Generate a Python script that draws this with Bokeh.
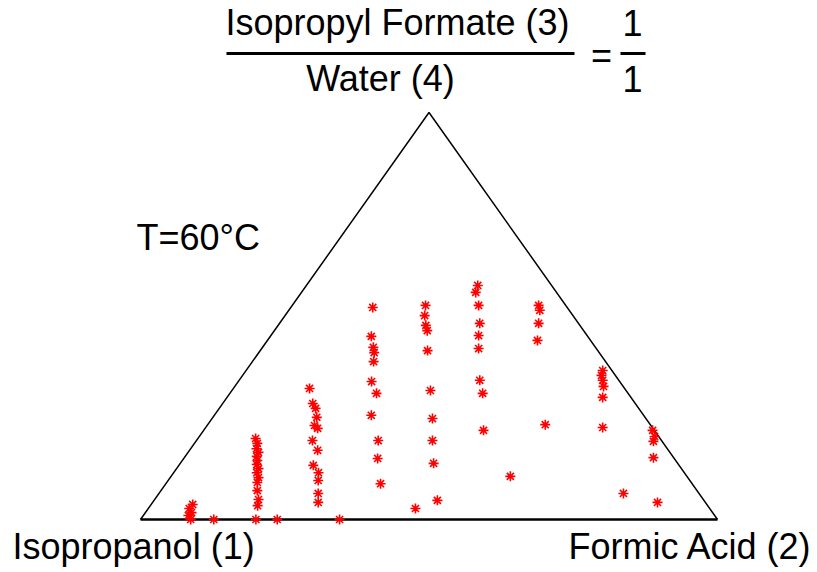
from bokeh.plotting import figure
from bokeh.models import Range1d, Label
from bokeh.embed import file_html
from bokeh.resources import INLINE

# Ternary data: mole fraction of Formic Acid (2) and of Isopropyl Formate + Water (3+4)
formic_acid = [
    0.072, 0.071, 0.080, 0.078, 0.087,
    0.127, 0.237, 0.345,
    0.100, 0.109, 0.114, 0.122, 0.124, 0.130, 0.134, 0.142, 0.144, 0.153, 0.157, 0.167, 0.180, 0.186, 0.200,
    0.132, 0.156, 0.167, 0.180, 0.186, 0.195, 0.201, 0.222, 0.233, 0.251, 0.260, 0.276, 0.287,
    0.142, 0.175, 0.192, 0.200, 0.210, 0.231, 0.254, 0.272, 0.315, 0.336, 0.372,
    0.231, 0.242, 0.256, 0.265, 0.290, 0.344, 0.382, 0.409, 0.439, 0.491, 0.463,
    0.297, 0.302, 0.323, 0.347, 0.360, 0.376, 0.417, 0.438, 0.485,
    0.588,
    0.427, 0.435, 0.449, 0.468,
    0.585,
    0.618, 0.622, 0.630, 0.639, 0.651, 0.688,
    0.778, 0.789, 0.793, 0.813, 0.805, 0.875,
]
ester_water = [
    0.037, 0.027, 0.017, 0.010, 0.000,
    0.000, 0.000, 0.000,
    0.199, 0.187, 0.174, 0.165, 0.155, 0.145, 0.135, 0.125, 0.115, 0.103, 0.091, 0.071, 0.049, 0.034, 0.000,
    0.322, 0.285, 0.273, 0.251, 0.231, 0.224, 0.194, 0.170, 0.133, 0.115, 0.096, 0.064, 0.042,
    0.521, 0.450, 0.423, 0.410, 0.388, 0.339, 0.310, 0.256, 0.194, 0.150, 0.088,
    0.526, 0.501, 0.477, 0.464, 0.415, 0.317, 0.248, 0.194, 0.138, 0.047, 0.027,
    0.575, 0.558, 0.526, 0.482, 0.452, 0.420, 0.342, 0.310, 0.219,
    0.106,
    0.526, 0.514, 0.482, 0.440,
    0.233,
    0.366, 0.354, 0.342, 0.327, 0.300, 0.226,
    0.219, 0.204, 0.192, 0.152, 0.064, 0.042,
]

vertex_labels = ["Isopropanol (1)", "Formic Acid (2)"]
title_num = "Isopropyl Formate (3)"
title_den = "Water (4)"
ratio_num = "1"
ratio_den = "1"
temp_label = "T=60°C"

W, H = 817, 572
# pixel layout of triangle
LX, RX, BY, TY = 140, 717, 519, 112
sx = RX - LX
sy = BY - TY


def dx(px):
    return (px - LX) / sx


def dy(py):
    return (BY - py) / sy


p = figure(width=W, height=H, output_backend="svg", toolbar_location=None,
           x_range=Range1d(dx(0), dx(W)), y_range=Range1d(dy(H), dy(0)),
           min_border=0, background_fill_color="white")
p.axis.visible = False
p.grid.visible = False
p.outline_line_color = None

# triangle
p.line([0, 0.5, 1], [0, 1, 0], line_color="black", line_width=1.5)
p.line([0, 1], [0, 0], line_color="black", line_width=2.5)

# points
X = [f + e / 2 for f, e in zip(formic_acid, ester_water)]
Y = list(ester_water)
p.scatter(X, Y, marker="asterisk", size=10, line_color="red", line_width=1.6)

FONT = "Liberation Sans"
FS = "36px"
SHIFT = 15


def label(txt, px, py, align="center"):
    p.add_layout(Label(x=dx(px), y=dy(py - SHIFT), text=txt, text_font=FONT, text_font_size=FS,
                       text_align=align, text_baseline="alphabetic", text_color="black"))


label(title_num, 397, 37)
label(title_den, 380, 93)
label(ratio_num, 632, 37)
label(ratio_den, 632, 93)
label("=", 601, 70)
label(temp_label, 136, 252, "left")
label(vertex_labels[0], 12, 561, "left")
label(vertex_labels[1], 812, 561, "right")

# fraction bars
p.segment(x0=[dx(226), dx(620)], y0=[dy(53), dy(53)], x1=[dx(574), dx(645)], y1=[dy(53), dy(53)],
          line_color="black", line_width=3)

open("out.html", "w").write(file_html(p, INLINE))
